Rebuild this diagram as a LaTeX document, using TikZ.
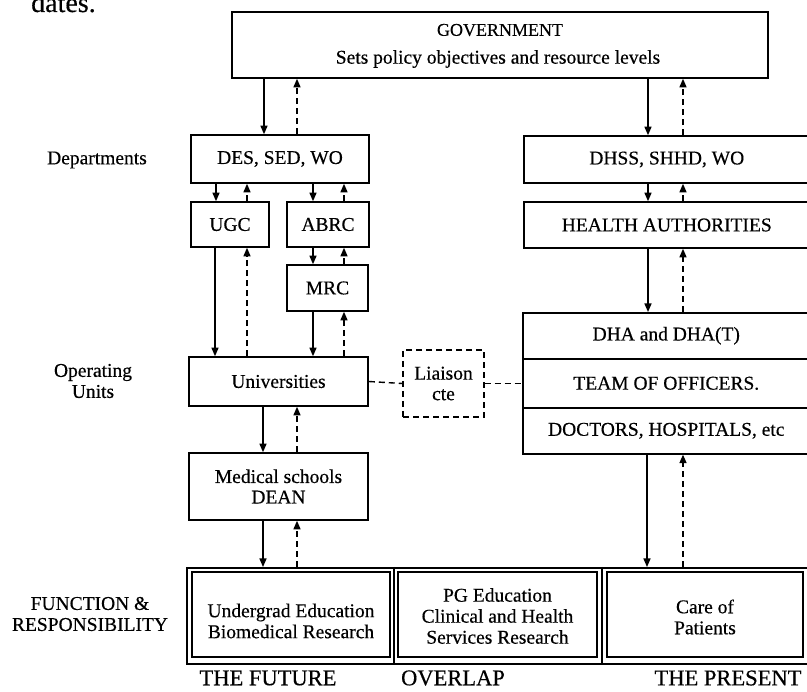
\documentclass[tikz,border=0pt]{standalone}
\usepackage{fontspec}
\setmainfont[FakeBold=0.4]{Liberation Serif}
\usetikzlibrary{arrows.meta}
\begin{document}
\begin{tikzpicture}[x=1pt,y=-1pt,
  box/.style={draw, line width=1.6pt, inner sep=0pt, align=center, font=\fontsize{19.5}{20.5}\selectfont},
  dbox/.style={box, line width=1.4pt, dash pattern=on 6pt off 4pt},
  inbox/.style={draw, line width=1.3pt},
  txt/.style={inner sep=0pt, align=center, font=\fontsize{19.5}{21}\selectfont},
  big/.style={inner sep=0pt, align=center, font=\fontsize{22.5}{24}\selectfont},
  arr/.style={line width=1.4pt, -{Triangle[length=8.5pt,width=7pt]}},
  darr/.style={arr, dash pattern=on 6pt off 4pt},
  dline/.style={line width=1.4pt, dash pattern=on 6pt off 4pt}
]
\fill[white] (0,0) rectangle (807,692);
\useasboundingbox (0,0) rectangle (807,692);

% stray text from the page
\node[anchor=base west, inner sep=0pt, font=\fontsize{28}{30}\selectfont] (dates) at (31,12) {dates.};

% government
\node[box, minimum width=536, minimum height=66] (gov) at (500,45) {};
\node[txt, font=\fontsize{18}{20}\selectfont] (govt) at (500,30) {GOVERNMENT};
\node[txt] (govs) at (498,59) {Sets policy objectives and resource levels};

% left column
\node[box, minimum width=178, minimum height=48] (des) at (280,159) {DES, SED, WO};
\node[box, minimum width=78, minimum height=45] (ugc) at (230,224.5) {UGC};
\node[box, minimum width=82, minimum height=45] (abrc) at (328,224.5) {ABRC};
\node[box, minimum width=81, minimum height=46] (mrc) at (327.5,288) {MRC};
\node[box, minimum width=179, minimum height=49] (univ) at (278.5,381.5) {Universities};
\node[box, minimum width=179, minimum height=67] (med) at (278.5,486.5) {Medical schools\\DEAN};
\node[dbox, minimum width=81, minimum height=67] (liai) at (443.5,383.5) {Liaison\\cte};

% right column
\node[box, minimum width=286, minimum height=47, anchor=west] (dhss) at (523,159.5) {DHSS, SHHD, WO};
\node[box, minimum width=286, minimum height=46, anchor=west] (ha) at (523,225) {HEALTH AUTHORITIES};
\node[box, minimum width=287, minimum height=46, anchor=north west] (dha) at (522,312) {DHA and DHA(T)};
\node[box, minimum width=287, minimum height=49, anchor=north west] (team) at (522,358) {TEAM OF OFFICERS.};
\node[box, minimum width=287, minimum height=46, anchor=north west] (docs) at (522,407) {DOCTORS, HOSPITALS, etc};

% function box
\node[box, minimum width=623, minimum height=96, anchor=north west] (func) at (186,567) {};
\draw[line width=1.6pt] (394,0 |- func.north) -- (394,0 |- func.south);
\draw[line width=1.6pt] (602,0 |- func.north) -- (602,0 |- func.south);
\draw[inbox] (192,572) rectangle (390,657);
\draw[inbox] (398,572) rectangle (597,657);
\draw[inbox] (607,572) rectangle (803,657);
\node[txt] (ugt) at (291,621) {Undergrad Education\\Biomedical Research};
\node[txt] (pgt) at (497.5,616) {PG Education\\Clinical and Health\\Services Research};
\node[txt] (caret) at (705,617) {Care of\\Patients};

% left labels
\node[txt] (lDep) at (97,160) {Departments};
\node[txt] (lOp) at (93,381) {Operating\\Units};
\node[txt] (lFn) at (90,614) {FUNCTION \&\\RESPONSIBILITY};

% bottom labels
\node[big] (lFut) at (268,678) {THE FUTURE};
\node[big] (lOvl) at (453,678) {OVERLAP};
\node[big] (lPre) at (728,678) {THE PRESENT};

% arrows, left
\draw[arr] (264,0 |- gov.south) -- (264,0 |- des.north);
\draw[darr] (297,0 |- des.north) -- (297,0 |- gov.south);
\draw[arr] (216,0 |- des.south) -- (216,0 |- ugc.north);
\draw[darr] (247,0 |- ugc.north) -- (247,0 |- des.south);
\draw[arr] (313,0 |- des.south) -- (313,0 |- abrc.north);
\draw[darr] (344,0 |- abrc.north) -- (344,0 |- des.south);
\draw[arr] (313,0 |- abrc.south) -- (313,0 |- mrc.north);
\draw[darr] (344,0 |- mrc.north) -- (344,0 |- abrc.south);
\draw[arr] (215,0 |- ugc.south) -- (215,0 |- univ.north);
\draw[darr] (247,0 |- univ.north) -- (247,0 |- ugc.south);
\draw[arr] (313,0 |- mrc.south) -- (313,0 |- univ.north);
\draw[darr] (344,0 |- univ.north) -- (344,0 |- mrc.south);
\draw[arr] (263,0 |- univ.south) -- (263,0 |- med.north);
\draw[darr] (297,0 |- med.north) -- (297,0 |- univ.south);
\draw[arr] (263,0 |- med.south) -- (263,0 |- func.north);
\draw[darr] (297,0 |- func.north) -- (297,0 |- med.south);

% arrows, right
\draw[arr] (648,0 |- gov.south) -- (648,0 |- dhss.north);
\draw[darr] (683,0 |- dhss.north) -- (683,0 |- gov.south);
\draw[arr] (648,0 |- dhss.south) -- (648,0 |- ha.north);
\draw[darr] (683,0 |- ha.north) -- (683,0 |- dhss.south);
\draw[arr] (648,0 |- ha.south) -- (648,0 |- dha.north);
\draw[darr] (683,0 |- dha.north) -- (683,0 |- ha.south);
\draw[arr] (647,0 |- docs.south) -- (647,0 |- func.north);
\draw[darr] (683,0 |- func.north) -- (683,0 |- docs.south);

% liaison links
\draw[dline] (univ.east) -- (liai.west);
\draw[dline] (liai.east) -- (liai.east -| team.west);
\end{tikzpicture}
\end{document}
